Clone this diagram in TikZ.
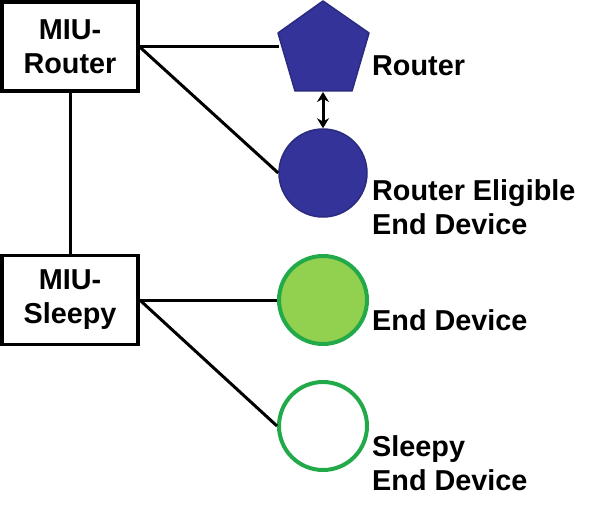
\documentclass[tikz,border=0pt]{standalone}
\usepackage{fontspec}
\setmainfont{Liberation Sans}
\usetikzlibrary{arrows.meta}
\definecolor{devblue}{HTML}{333399}
\definecolor{devblueline}{HTML}{2A2A80}
\definecolor{devgreen}{HTML}{92D050}
\definecolor{devgreenline}{HTML}{22AA4A}
\begin{document}
\begin{tikzpicture}[x=1pt,y=-1pt,
  every node/.style={font=\fontsize{28.8}{34}\selectfont\bfseries},
  miubox/.style={draw=black, line width=3.5pt, minimum width=136pt, minimum height=89pt, align=center, inner sep=0pt},
  link/.style={line width=3pt},
  dev/.style={circle, minimum size=88pt, inner sep=0pt},
  lbl/.style={anchor=base west, align=left, inner sep=0pt}]
\useasboundingbox (0,0) rectangle (595,516);
% boxes
\node[miubox] (rbox) at (70,46.5) {MIU-\\Router};
\node[miubox] (sbox) at (70,300) {MIU-\\Sleepy};
% pentagon (router)
\filldraw[fill=devblue, draw=devblueline, line width=1.5pt, line join=round]
  (323,1) -- (369,33) -- (352,91) -- (295,91) -- (278,33) -- cycle;
\coordinate (pw) at (279,47);
\coordinate (pb) at (323,92);
% devices
\node[dev, fill=devblue, draw=devblueline, line width=1.5pt] (red) at (323,173) {};
\node[dev, fill=devgreen, draw=devgreenline, line width=4pt] (ed) at (323,300) {};
\node[dev, fill=white, draw=devgreenline, line width=4pt] (sed) at (323,426) {};
% connectors
\draw[link] (rbox.south) -- (sbox.north);
\draw[link] (rbox.east |- pw) -- (pw);
\draw[link] (rbox.east |- pw) -- (red.west);
\draw[link] (sbox.east) -- (ed.west);
\draw[link] (sbox.east) -- (sed.west);
\draw[line width=3pt, {Stealth[length=10pt,width=12pt]}-{Stealth[length=10pt,width=12pt]}] (pb) -- (red.north);
% labels
\node[lbl] (l1) at (372,76) {Router};
\node[lbl] (l2) at (372,235) {Router Eligible\\End Device};
\node[lbl] (l3) at (372,330) {End Device};
\node[lbl] (l4) at (372,490) {Sleepy\\End Device};
\end{tikzpicture}
\end{document}
